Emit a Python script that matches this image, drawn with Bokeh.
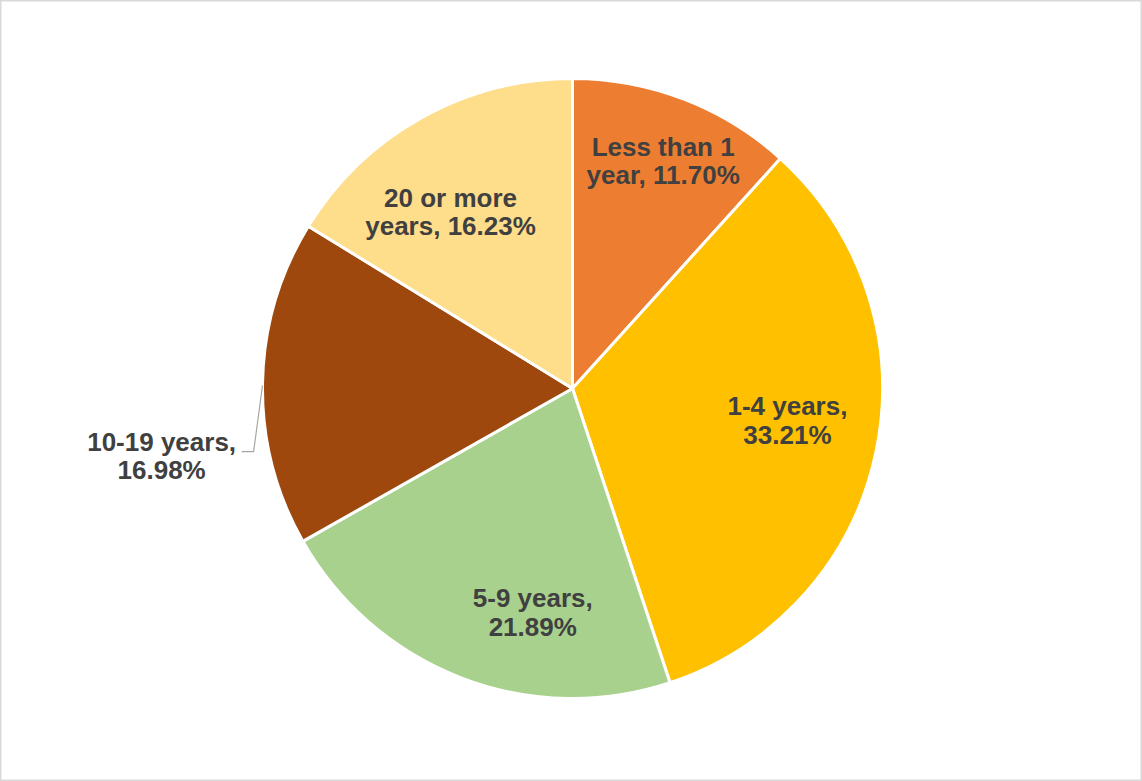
import math
from bokeh.plotting import figure
from bokeh.models import Range1d, ColumnDataSource
from bokeh.core.properties import value
from bokeh.embed import file_html
from bokeh.resources import INLINE

categories = ["Less than 1 year", "1-4 years", "5-9 years", "10-19 years", "20 or more years"]
shares = [11.70, 33.21, 21.89, 16.98, 16.23]
label_texts = ["Less than 1\nyear, 11.70%", "1-4 years,\n33.21%", "5-9 years,\n21.89%",
               "10-19 years,\n16.98%", "20 or more\nyears, 16.23%"]
colors = ["#ED7D31", "#FFC000", "#A9D18E", "#9E480E", "#FEDD8B"]

# label placement: (angle tweak in degrees, radius fraction)
label_tweak = [0.7, -3.4, -11.0, -10.3, -5.5]
label_rfrac = [0.789, 0.701, 0.734, 1.343, 0.691]

W, H = 1142, 781
CX, CY, R = 572, H - 388, 310

total = sum(shares)
starts, ends, mids = [], [], []
cum = 0.0
for s in shares:
    a0 = cum / total * 360.0
    cum += s
    a1 = cum / total * 360.0
    starts.append(a0)
    ends.append(a1)
    mids.append((a0 + a1) / 2)

# convert clockwise-from-top degrees to bokeh radians (counter-clockwise from +x)
def to_rad(deg):
    return math.radians(90.0 - deg)

src = ColumnDataSource(dict(
    cat=categories,
    start=[to_rad(a) for a in starts],
    end=[to_rad(a) for a in ends],
    color=colors,
))

p = figure(width=W, height=H, output_backend="svg", toolbar_location=None,
           x_range=Range1d(0, W), y_range=Range1d(0, H), min_border=0)
p.axis.visible = False
p.grid.visible = False
p.outline_line_color = "#D9D9D9"
p.outline_line_width = 2
p.background_fill_color = "white"

p.wedge(x=CX, y=CY, radius=R, start_angle="start", end_angle="end", direction="clock",
        fill_color="color", line_color="white", line_width=3, source=src)

lx, ly = [], []
for m, t, rf in zip(mids, label_tweak, label_rfrac):
    th = math.radians(m + t)
    lx.append(CX + rf * R * math.sin(th))
    ly.append(CY + rf * R * math.cos(th))

# leader line for the outside label (10-19 years)
i = 3
edge_th = math.radians(270.6)
ex, ey = CX + R * math.sin(edge_th), CY + R * math.cos(edge_th)
p.line(x=[lx[i] + 80, lx[i] + 92, ex], y=[ly[i] + 4, ly[i] + 4, ey],
       line_color="#A6A6A6", line_width=1.2)

p.text(x=lx, y=ly, text=label_texts, text_align="center", text_baseline="middle",
       text_font=value("Liberation Sans"), text_font_style="bold",
       text_font_size="26px", text_color="#404040", text_line_height=0.94)

open("out.html", "w").write(file_html(p, INLINE))
